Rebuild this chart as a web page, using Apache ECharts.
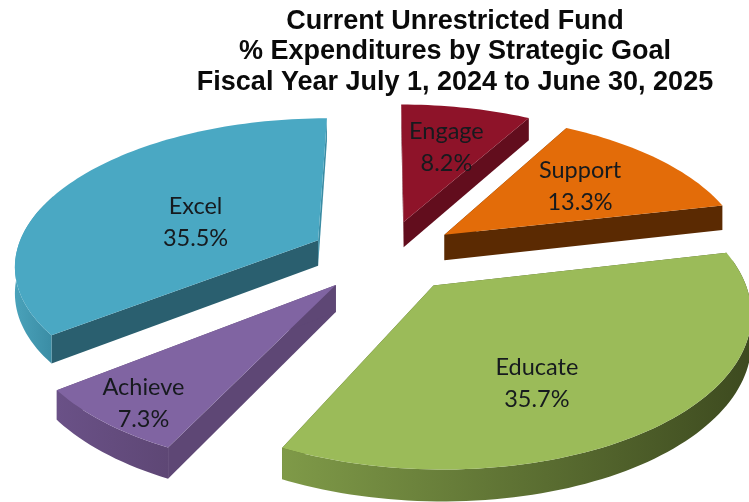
<!DOCTYPE html>
<html>
<head>
<meta charset="utf-8">
<style>html,body{margin:0;padding:0;background:#fff}#c{width:749px;height:502px}</style>
<script src="https://cdn.jsdelivr.net/npm/echarts@6/dist/echarts.min.js"></script>
</head>
<body>
<div id="c"></div>
<script>
const titleLines = ['Current Unrestricted Fund', '% Expenditures by Strategic Goal', 'Fiscal Year July 1, 2024 to June 30, 2025'];
const categories = ['Engage', 'Support', 'Educate', 'Achieve', 'Excel'];
const percents = [8.2, 13.3, 35.7, 7.3, 35.5];

const topColors = ['#8e1329', '#e36c09', '#9bbb59', '#8064a2', '#4aa8c3'];
const cutColors = ['#620d1d', '#5b2a02', '#4a5a24', '#5e4775', '#2a5f6f'];
const wallStops = [
  ['#620d1d', '#620d1d'], ['#5b2a02', '#5b2a02'], ['#7f9a48', '#3d4a1f'],
  ['#6a5187', '#5e4775'], ['#4aa2ba', '#3a8ca4']
];
const labelNudge = [[2, 0], [-1, 0], [-31, 16], [-56, 38], [34, 19]];

const view = { cx: 385, cy: 256, radius: 303, tilt: 0.48, persp: 0.155, explode: 0.25, depth: 26 };
const DEG = Math.PI / 180;

function project(x, y, drop) {
  const s = 1 / (1 + view.persp * y);
  return [view.cx + view.radius * x * s, view.cy - view.radius * view.tilt * y * s + (drop ? view.depth * s : 0)];
}

const total = percents.reduce((a, b) => a + b, 0);
const spans = [];
percents.reduce((acc, p) => {
  const end = acc + p / total * 360;
  spans.push([acc, end]);
  return end;
}, 0);

function renderSlice(params, api) {
  const i = api.value(0);
  const [a0, a1] = spans[i];
  const mid = (a0 + a1) / 2;
  const ox = view.explode * Math.sin(mid * DEG);
  const oy = view.explode * Math.cos(mid * DEG);
  const rim = (deg, drop) => project(ox + Math.sin(deg * DEG), oy + Math.cos(deg * DEG), drop);
  const apex = drop => project(ox, oy, drop);

  const arc = [];
  for (let d = a0; d < a1; d += 1.5) arc.push(d);
  arc.push(a1);

  const children = [];
  [a0, a1].forEach(d => children.push({
    type: 'polygon',
    shape: { points: [apex(false), rim(d, false), rim(d, true), apex(true)] },
    style: { fill: d > 300 ? wallStops[i][1] : cutColors[i] }
  }));

  const front = arc.filter(d => d >= 80 && d <= 290);
  if (front.length > 1) {
    const pts = front.map(d => rim(d, false)).concat(front.slice().reverse().map(d => rim(d, true)));
    children.push({
      type: 'polygon',
      shape: { points: pts },
      style: {
        fill: new echarts.graphic.LinearGradient(0, 0, 1, 0, [
          { offset: 0, color: wallStops[i][0] }, { offset: 1, color: wallStops[i][1] }
        ])
      }
    });
  }

  children.push({
    type: 'polygon',
    shape: { points: [apex(false)].concat(arc.map(d => rim(d, false))) },
    style: { fill: topColors[i] }
  });

  const lr = view.explode + 0.62;
  const lp = project(lr * Math.sin(mid * DEG), lr * Math.cos(mid * DEG), false);
  children.push({
    type: 'text',
    style: {
      text: categories[i] + '\n' + percents[i].toFixed(1) + '%',
      x: lp[0] + labelNudge[i][0],
      y: lp[1] + labelNudge[i][1],
      align: 'center',
      verticalAlign: 'middle',
      fontFamily: 'Lato',
      fontSize: 23.5,
      lineHeight: 32,
      fill: '#161a1e'
    }
  });
  return { type: 'group', children };
}

const chart = echarts.init(document.getElementById('c'), null, { renderer: 'canvas' });
chart.setOption({
  animation: false,
  backgroundColor: '#ffffff',
  title: {
    text: titleLines.join('\n'),
    left: 450,
    top: 1,
    textAlign: 'center',
    textStyle: { fontFamily: 'Liberation Sans', fontWeight: 'bold', fontSize: 27, lineHeight: 30.5, color: '#0a0a0a' }
  },
  series: [{
    type: 'custom',
    coordinateSystem: 'none',
    silent: true,
    clip: false,
    renderItem: renderSlice,
    data: categories.map((c, i) => ({ name: c, value: [i, percents[i]] }))
  }]
});
</script>
</body>
</html>
